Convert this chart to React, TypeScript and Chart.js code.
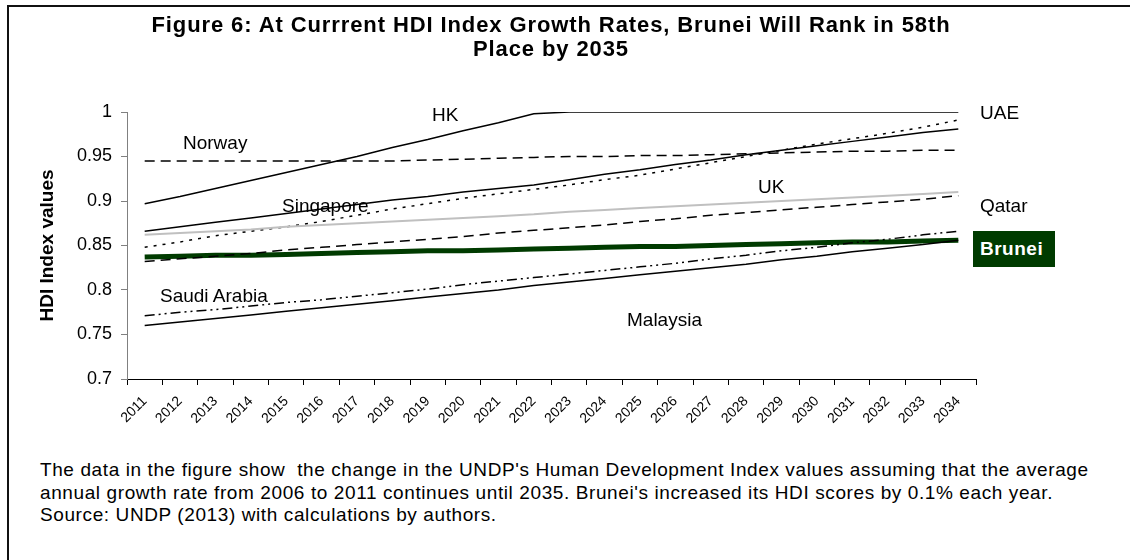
import React, { useEffect, useRef } from "react";
import { Chart, registerables } from "chart.js";

Chart.register(...registerables);

const years = [
  "2011", "2012", "2013", "2014", "2015", "2016", "2017", "2018",
  "2019", "2020", "2021", "2022", "2023", "2024", "2025", "2026",
  "2027", "2028", "2029", "2030", "2031", "2032", "2033", "2034",
];

const hkValues = [0.897, 0.905, 0.914, 0.923, 0.932, 0.941, 0.95, 0.96, 0.969, 0.979, 0.988, 0.998, 1, 1, 1, 1, 1, 1, 1, 1, 1, 1, 1, 1];
const norwayValues = [0.945, 0.945, 0.945, 0.945, 0.945, 0.945, 0.945, 0.945, 0.946, 0.947, 0.948, 0.949, 0.95, 0.95, 0.951, 0.951, 0.952, 0.953, 0.954, 0.955, 0.956, 0.956, 0.957, 0.957];
const uaeValues = [0.848, 0.854, 0.861, 0.866, 0.871, 0.877, 0.884, 0.891, 0.897, 0.903, 0.908, 0.913, 0.918, 0.924, 0.929, 0.936, 0.943, 0.95, 0.957, 0.964, 0.97, 0.976, 0.983, 0.991];
const singaporeValues = [0.866, 0.871, 0.876, 0.881, 0.886, 0.891, 0.896, 0.901, 0.905, 0.91, 0.914, 0.918, 0.924, 0.93, 0.935, 0.941, 0.946, 0.952, 0.957, 0.962, 0.967, 0.972, 0.977, 0.981];
const ukValues = [0.862, 0.864, 0.866, 0.868, 0.871, 0.873, 0.875, 0.877, 0.879, 0.881, 0.883, 0.885, 0.888, 0.89, 0.892, 0.894, 0.896, 0.898, 0.9, 0.902, 0.904, 0.906, 0.908, 0.91];
const qatarValues = [0.832, 0.835, 0.838, 0.841, 0.845, 0.848, 0.851, 0.854, 0.857, 0.86, 0.864, 0.867, 0.87, 0.873, 0.877, 0.88, 0.884, 0.887, 0.89, 0.893, 0.896, 0.899, 0.902, 0.906];
const bruneiValues = [0.837, 0.838, 0.839, 0.839, 0.84, 0.841, 0.842, 0.843, 0.844, 0.844, 0.845, 0.846, 0.847, 0.848, 0.849, 0.849, 0.85, 0.851, 0.852, 0.853, 0.854, 0.854, 0.855, 0.856];
const saudiValues = [0.771, 0.775, 0.778, 0.782, 0.786, 0.789, 0.793, 0.797, 0.801, 0.806, 0.81, 0.814, 0.818, 0.822, 0.826, 0.83, 0.835, 0.839, 0.844, 0.848, 0.853, 0.857, 0.862, 0.866];
const malaysiaValues = [0.76, 0.764, 0.768, 0.772, 0.776, 0.78, 0.784, 0.788, 0.792, 0.796, 0.8, 0.805, 0.809, 0.813, 0.817, 0.821, 0.825, 0.829, 0.834, 0.838, 0.843, 0.847, 0.851, 0.856];

const yTicks = [0.7, 0.75, 0.8, 0.85, 0.9, 0.95, 1];

const titleLines = [
  "Figure 6: At Currrent HDI Index Growth Rates, Brunei Will Rank in 58th",
  "Place by 2035",
];
const captionLines = [
  "The data in the figure show  the change in the UNDP's Human Development Index values assuming that the average",
  "annual growth rate from 2006 to 2011 continues until 2035. Brunei's increased its HDI scores by 0.1% each year.",
  "Source: UNDP (2013) with calculations by authors.",
];

const FONT = "'Liberation Sans', Arial, sans-serif";

const labelStyle = (left: number, top: number): React.CSSProperties => ({
  position: "absolute",
  left,
  top,
  fontFamily: FONT,
  fontSize: 19,
  lineHeight: 1,
  color: "#000",
  whiteSpace: "pre",
});

export default function App() {
  const ref = useRef<HTMLCanvasElement>(null);

  useEffect(() => {
    document.body.style.margin = "0";
    const line = (label: string, data: number[], color: string, width: number, dash: number[]) => ({
      label,
      data,
      borderColor: color,
      backgroundColor: color,
      borderWidth: width,
      borderDash: dash,
      pointRadius: 0,
      tension: 0,
      fill: false,
    });
    const chart = new Chart(ref.current!, {
      type: "line",
      data: {
        labels: years,
        datasets: [
          line("UK", ukValues, "#c0c0c0", 2, []),
          line("HK", hkValues, "#000", 1.5, []),
          line("Norway", norwayValues, "#000", 1.5, [10, 6]),
          line("UAE", uaeValues, "#000", 1.5, [3, 6]),
          line("Singapore", singaporeValues, "#000", 1.5, []),
          line("Qatar", qatarValues, "#000", 1.5, [10, 6]),
          line("Saudi Arabia", saudiValues, "#000", 1.5, [10, 4, 2, 4, 2, 4]),
          line("Malaysia", malaysiaValues, "#000", 1.5, []),
          line("Brunei", bruneiValues, "#003b00", 5, []),
        ],
      },
      options: {
        responsive: false,
        animation: false,
        devicePixelRatio: 1,
        layout: { padding: { top: 112, right: 154, left: 0, bottom: 0 } },
        plugins: { legend: { display: false }, tooltip: { enabled: false }, title: { display: false } },
        scales: {
          x: {
            type: "category",
            offset: true,
            grid: { drawOnChartArea: false, tickLength: 6, color: "#000", offset: true },
            border: { color: "#000", width: 1 },
            ticks: {
              minRotation: 45,
              maxRotation: 45,
              autoSkip: false,
              color: "#000",
              padding: 8,
              font: { family: FONT, size: 14 },
            },
            afterFit: (s: any) => {
              s.height = 61;
            },
          },
          y: {
            min: 0.7,
            max: 1,
            afterBuildTicks: (s: any) => {
              s.ticks = yTicks.map((v) => ({ value: v }));
            },
            ticks: {
              color: "#000",
              padding: 9,
              font: { family: FONT, size: 18 },
              callback: (v: any) => String(Number(Number(v).toFixed(2))),
            },
            grid: { drawOnChartArea: false, tickLength: 6, color: "#808080" },
            border: { color: "#808080", width: 1 },
            title: {
              display: true,
              text: "HDI Index values",
              color: "#000",
              font: { family: FONT, size: 19, weight: "bold" },
              padding: { top: 36, bottom: 0 },
            },
            afterFit: (s: any) => {
              s.width = 127;
            },
          },
        },
      },
    } as any);
    return () => chart.destroy();
  }, []);

  return (
    <div style={{ position: "fixed", left: 0, top: 0, width: 1130, height: 560, background: "#fff", overflow: "hidden" }}>
      <div style={{ position: "absolute", left: 7, top: 5, width: 1200, height: 600, borderLeft: "2px solid #111", borderTop: "2px solid #111" }} />
      <canvas ref={ref} width={1130} height={440} style={{ position: "absolute", left: 0, top: 0, width: 1130, height: 440 }} />
      <div
        style={{
          position: "absolute",
          left: 0,
          top: 13,
          width: 1102,
          textAlign: "center",
          fontFamily: FONT,
          fontWeight: "bold",
          fontSize: 22,
          letterSpacing: 0.9,
          lineHeight: "23.5px",
          color: "#000",
        }}
      >
        {titleLines.map((t, i) => (
          <div key={i}>{t}</div>
        ))}
      </div>
      <div style={labelStyle(432, 105)}>HK</div>
      <div style={labelStyle(183, 133)}>Norway</div>
      <div style={labelStyle(282, 196)}>Singapore</div>
      <div style={labelStyle(758, 177)}>UK</div>
      <div style={labelStyle(980, 103)}>UAE</div>
      <div style={labelStyle(980, 196)}>Qatar</div>
      <div style={labelStyle(160, 286)}>Saudi Arabia</div>
      <div style={labelStyle(627, 310)}>Malaysia</div>
      <div
        style={{
          position: "absolute",
          left: 973,
          top: 231,
          width: 82,
          height: 36,
          background: "#003b00",
          color: "#fff",
          fontFamily: FONT,
          fontWeight: "bold",
          fontSize: 19,
          lineHeight: "36px",
          paddingLeft: 7,
          boxSizing: "border-box",
          letterSpacing: 0.5,
        }}
      >
        Brunei
      </div>
      <div
        style={{
          position: "absolute",
          left: 40,
          top: 459,
          fontFamily: FONT,
          fontSize: 19,
          letterSpacing: 0.6,
          lineHeight: "22.5px",
          color: "#000",
          whiteSpace: "pre",
        }}
      >
        {captionLines.map((t, i) => (
          <div key={i}>{t}</div>
        ))}
      </div>
    </div>
  );
}
